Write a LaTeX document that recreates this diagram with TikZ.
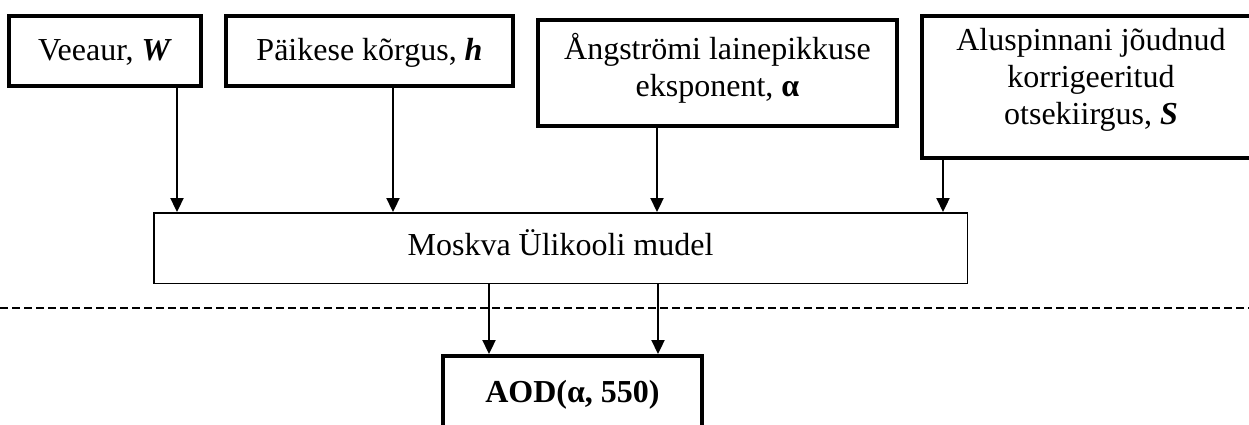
\documentclass[tikz,border=0pt]{standalone}
\usepackage{fontspec}
\setmainfont{Liberation Serif}
\usetikzlibrary{arrows.meta}
\newcommand{\bt}[1]{\begin{tabular}[t]{@{}c@{}}#1\end{tabular}}
\newcommand{\bi}[1]{\textbf{\textit{#1}}}
\begin{document}
\begin{tikzpicture}[x=1pt,y=-1pt,
  every node/.style={font=\fontsize{32}{37}\selectfont},
  thickbox/.style={draw, rectangle, line width=4pt, inner sep=0pt},
  thinbox/.style={draw, rectangle, line width=1.5pt, inner sep=0pt},
  arr/.style={line width=2.3pt, -{Triangle[length=14pt,width=13pt]}},
  sepline/.style={line width=1.5pt, dash pattern=on 7.5pt off 4.5pt},
]
\useasboundingbox (0,0) rectangle (1249,425);

% input boxes
\node[thickbox, minimum width=192pt, minimum height=70pt,
      text height=31pt, text depth=11pt] (b1) at (105,51)
  {Veeaur, \bi{W}};
\node[thickbox, minimum width=287pt, minimum height=70pt,
      text height=31pt, text depth=11pt] (b2) at (369.5,51)
  {Päikese kõrgus, \bi{h}};
\node[thickbox, minimum width=359pt, minimum height=106pt,
      text height=26pt, text depth=52pt] (b3) at (717.5,73)
  {\bt{Ångströmi lainepikkuse\\ eksponent, \textbf{α}}};
\node[thickbox, minimum width=338pt, minimum height=142pt,
      text height=26pt, text depth=99pt] (b4) at (1091,87)
  {\bt{Aluspinnani jõudnud\\ korrigeeritud\\ otsekiirgus, \bi{S}}};

% model
\node[thinbox, minimum width=813.5pt, minimum height=70.5pt,
      text height=26pt, text depth=11pt] (m) at (560.5,248)
  {Moskva Ülikooli mudel};

% output
\node[thickbox, minimum width=259pt, minimum height=78pt,
      text height=26pt, text depth=11pt] (aod) at (572.5,395)
  {\textbf{AOD(α, 550)}};

% separator
\coordinate (dl) at (0,308);
\coordinate (dr) at (1249,308);
\draw[sepline] (dl) -- (dr);

% arrow columns
\coordinate (x1) at (177,0);
\coordinate (x2) at (393,0);
\coordinate (x3) at (657,0);
\coordinate (x4) at (943,0);
\coordinate (x5) at (489,0);
\coordinate (x6) at (658,0);

\draw[arr] (b1.south -| x1) -- (m.north -| x1);
\draw[arr] (b2.south -| x2) -- (m.north -| x2);
\draw[arr] (b3.south -| x3) -- (m.north -| x3);
\draw[arr] (b4.south -| x4) -- (m.north -| x4);
\draw[arr] (m.south -| x5) -- (aod.north -| x5);
\draw[arr] (m.south -| x6) -- (aod.north -| x6);
\end{tikzpicture}
\end{document}
